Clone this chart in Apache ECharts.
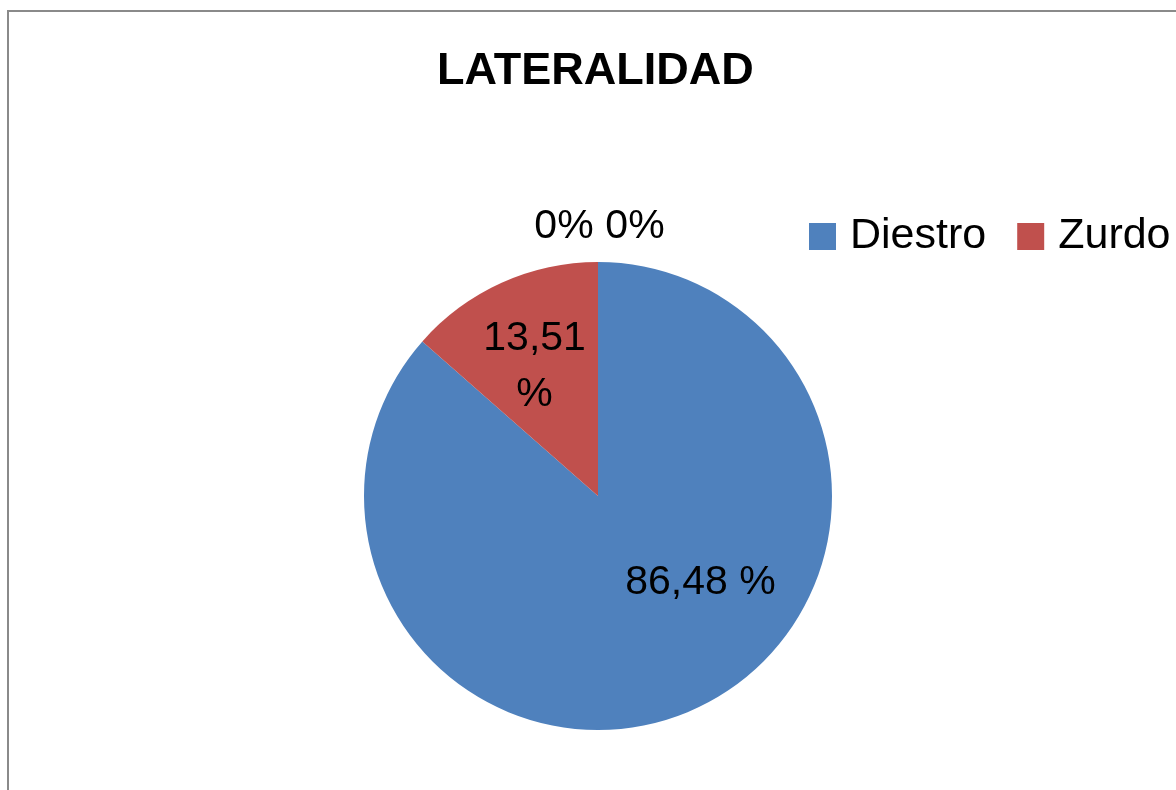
<!DOCTYPE html>
<html>
<head>
<meta charset="utf-8">
<script src="https://cdn.jsdelivr.net/npm/echarts@6/dist/echarts.min.js"></script>
<style>
  html, body { margin: 0; padding: 0; background: #fff; }
  #chart { width: 1176px; height: 790px; }
</style>
</head>
<body>
<div id="chart"></div>
<script>
const categories = ['Diestro', 'Zurdo', 'Otro 1', 'Otro 2']
const values = [86.48, 13.51, 0, 0]
const labelTexts = ['86,48 %', '13,51\n%', '0%', '0%']
const legendNames = ['Diestro', 'Zurdo']

const colors = ['#4F81BD', '#C0504D', '#9BBB59', '#8064A2']
// label nudges so they sit where the original put them
const labelOffsets = [[53, -23], [-14, -20], [-34, -149], [37, -149]]

const font = '"Liberation Sans", Arial, sans-serif'

const chart = echarts.init(document.getElementById('chart'))

const option = {
  animation: false,
  backgroundColor: '#fff',
  title: {
    text: 'LATERALIDAD',
    left: 432,
    top: 44,
    textStyle: { fontFamily: font, fontSize: 45, fontWeight: 'bold', color: '#000' }
  },
  legend: {
    data: legendNames,
    left: 804,
    top: 210,
    itemWidth: 27,
    itemHeight: 27,
    itemGap: 31,
    icon: 'rect',
    textStyle: { fontFamily: font, fontSize: 43, color: '#000', padding: [0, 0, 0, 9] }
  },
  graphic: [
    {
      type: 'rect',
      shape: { x: 8, y: 11, width: 1300, height: 900 },
      style: { fill: 'none', stroke: '#8a8a8a', lineWidth: 2 },
      silent: true
    }
  ],
  series: [
    {
      type: 'pie',
      center: [598, 496],
      radius: 234,
      startAngle: 90,
      clockwise: true,
      avoidLabelOverlap: false,
      label: {
        show: true,
        position: 'inside',
        fontFamily: font,
        fontSize: 41,
        lineHeight: 56,
        color: '#000'
      },
      labelLine: { show: false },
      itemStyle: { borderWidth: 0 },
      emphasis: { disabled: true },
      data: categories.map((name, i) => ({
        name: name,
        value: values[i],
        itemStyle: { color: colors[i] },
        label: { formatter: labelTexts[i], offset: labelOffsets[i] }
      }))
    }
  ]
}

chart.setOption(option)
</script>
</body>
</html>
